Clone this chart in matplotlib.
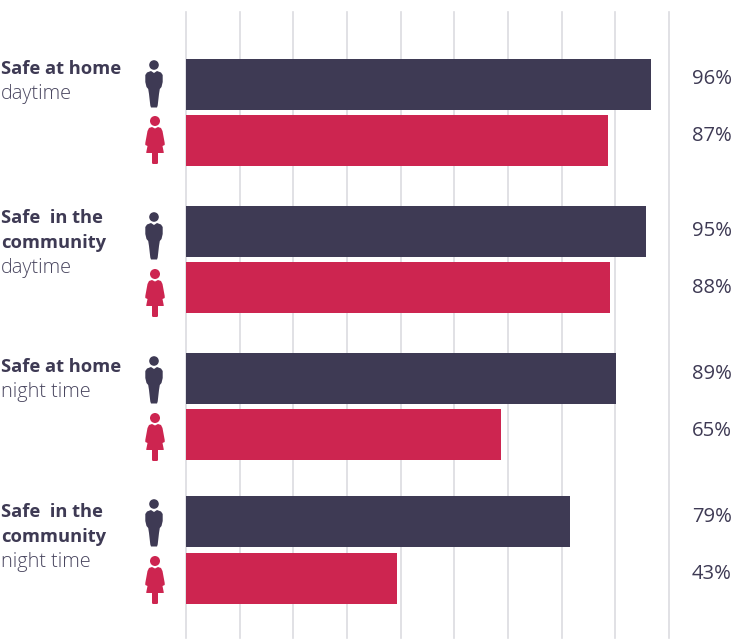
import numpy as np
import matplotlib
matplotlib.use("Agg")
import matplotlib.pyplot as plt
from matplotlib.patches import Polygon, Circle

plt.rcParams['font.family'] = ['Open Sans', 'DejaVu Sans']

W, H = 737, 640
DARK = "#3e3a54"
RED = "#cd2550"

# values (percent of axis), labels as printed
men = [96.3, 95.2, 89.0, 79.5]
women = [87.4, 87.8, 65.2, 43.7]
men_labels = ["96%", "95%", "89%", "79%"]
women_labels = ["87%", "88%", "65%", "43%"]
titles = [["Safe at home"], ["Safe  in the", "community"], ["Safe at home"], ["Safe  in the", "community"]]
subtitles = ["daytime", "daytime", "night time", "night time"]
ticks = np.arange(0, 101, 100 / 9)

# pixel rows (from the top) for the layout
men_top = [59, 206, 353, 496]
women_top = [115, 262, 409, 553]
bar_h = 51
men_icon = [60, 212, 356, 499]
women_icon = [116, 269, 413, 556]
men_text = [79, 231, 374, 517]
women_text = [136, 288, 431, 574]
text_top = [69, 218, 367, 512]
line_h = 25.5


def man(ax, cx, top):
    # cx, top in pixels, head top is at top
    ax.add_patch(Circle((cx, top + 5), 4.8, fc=DARK, ec="none"))
    pts = [(-3, 11), (0, 13), (3, 11), (7, 12.5), (8.7, 15), (8.7, 22), (7.5, 27), (5.8, 29),
           (5, 34), (3.7, 45.5), (3, 47.5), (-3, 47.5), (-3.7, 45.5), (-5, 34), (-5.8, 29),
           (-7.5, 27), (-8.7, 22), (-8.7, 15), (-7, 12.5)]
    ax.add_patch(Polygon([(cx + x, top + y) for x, y in pts], fc=DARK, ec="none"))


def woman(ax, cx, top):
    ax.add_patch(Circle((cx, top + 5), 5, fc=RED, ec="none"))
    pts = [(-3, 11), (0, 12.5), (3, 11), (6, 12), (7.5, 15), (9.7, 27), (9.7, 29), (7.5, 30),
           (8.7, 36), (8.7, 37), (3, 37), (3, 47), (2.3, 48), (-2.3, 48), (-3, 47),
           (-3, 37), (-8.7, 37), (-8.7, 36), (-7.5, 30), (-9.7, 29), (-9.7, 27), (-7.5, 15), (-6, 12)]
    ax.add_patch(Polygon([(cx + x, top + y) for x, y in pts], fc=RED, ec="none"))


fig = plt.figure(figsize=(W / 100, H / 100), dpi=100)

# chart area, x in percent, y in pixels from the top
ax = fig.add_axes([186 / W, 0, (669 - 186) / W, 1])
ax.set_xlim(0, 100)
ax.set_ylim(H, 0)
ax.axis("off")
for t in ticks:
    ax.plot([t, t], [12, 638], color="#dcdce0", lw=1.2, zorder=1, clip_on=False)

for i in range(4):
    ax.barh(men_top[i], men[i], height=bar_h, align="edge", color=DARK, zorder=2)
    ax.barh(women_top[i], women[i], height=bar_h, align="edge", color=RED, zorder=2)

# whole figure overlay in pixels for icons and text
ov = fig.add_axes([0, 0, 1, 1])
ov.set_xlim(0, W)
ov.set_ylim(H, 0)
ov.axis("off")
ov.patch.set_alpha(0)

for i in range(4):
    man(ov, 154, men_icon[i])
    woman(ov, 155, women_icon[i])
    ov.text(692, men_text[i], men_labels[i], fontsize=14.6, color=DARK, va="center", ha="left")
    ov.text(692, women_text[i], women_labels[i], fontsize=14.6, color=DARK, va="center", ha="left")

    y = text_top[i]
    for line in titles[i]:
        ov.text(1, y, line, fontsize=13.2, fontweight="bold", color=DARK, va="center", ha="left")
        y += line_h
    ov.text(1, y - 0.5, subtitles[i], fontsize=14.3, fontweight="light", color="#4a4760", va="center", ha="left")

fig.savefig("out.png", dpi=100)
